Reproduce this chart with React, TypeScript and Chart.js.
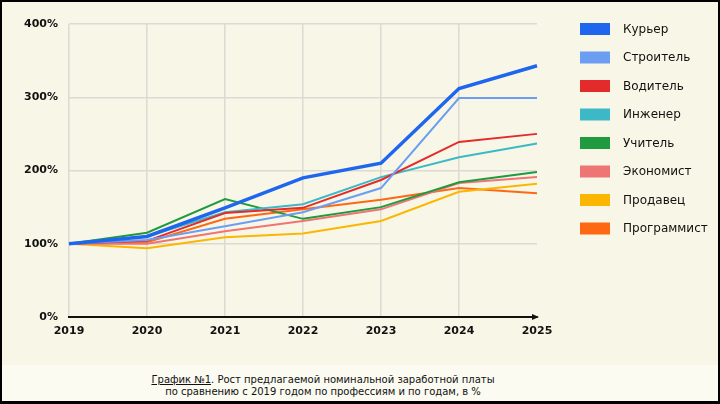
import React, { useEffect, useRef } from "react";
import { Chart, registerables } from "chart.js";

Chart.register(...registerables);

const years = ["2019", "2020", "2021", "2022", "2023", "2024", "2025"];
const seriesNames = ["Курьер", "Строитель", "Водитель", "Инженер", "Учитель", "Экономист", "Продавец", "Программист"];
const courier = [100, 110, 149, 190, 210, 312, 343];
const builder = [100, 105, 124, 143, 176, 299, 299];
const driver = [100, 104, 142, 149, 187, 239, 250];
const engineer = [100, 110, 143, 154, 191, 218, 237];
const teacher = [100, 115, 161, 134, 150, 184, 198];
const economist = [100, 100, 117, 131, 147, 183, 191];
const seller = [100, 94, 109, 114, 131, 171, 182];
const programmer = [100, 102, 134, 147, 160, 176, 169];
const seriesValues = [courier, builder, driver, engineer, teacher, economist, seller, programmer];
const seriesColors = ["#1f66ee", "#6b9ef3", "#e32b2b", "#3cb8c6", "#1f9a3f", "#ef7474", "#fbb603", "#ff6812"];
const seriesWidths = [3.5, 2, 2, 2, 2, 2, 2, 2];
const yTicks = [0, 100, 200, 300, 400];

const FONT = "'DejaVu Sans', sans-serif";

const legendPlugin = {
  id: "sideLegend",
  afterDraw(chart: any) {
    const ctx = chart.ctx;
    ctx.save();
    chart.data.datasets.forEach((ds: any, i: number) => {
      const y = 21 + i * 28.5;
      ctx.fillStyle = ds.borderColor;
      ctx.fillRect(578, y, 30, 12);
      ctx.fillStyle = "#111";
      ctx.font = "12px " + FONT;
      ctx.textBaseline = "middle";
      ctx.textAlign = "left";
      ctx.fillText(ds.label, 621, y + 6.5);
    });
    ctx.restore();
  },
};

const arrowPlugin = {
  id: "axisArrow",
  afterDraw(chart: any) {
    const { ctx, chartArea } = chart;
    const x = chartArea.right;
    const y = chart.scales.y.getPixelForValue(0);
    ctx.save();
    ctx.fillStyle = "#111";
    ctx.beginPath();
    ctx.moveTo(x + 2, y);
    ctx.lineTo(x - 5, y - 3);
    ctx.lineTo(x - 5, y + 3);
    ctx.closePath();
    ctx.fill();
    ctx.restore();
  },
};

export default function App() {
  const ref = useRef<HTMLCanvasElement | null>(null);
  useEffect(() => {
    document.body.style.margin = "0";
    const chart = new Chart(ref.current as HTMLCanvasElement, {
      type: "line",
      data: {
        labels: years,
        datasets: seriesNames.map((name, i) => ({
          label: name,
          data: seriesValues[i],
          borderColor: seriesColors[i],
          backgroundColor: seriesColors[i],
          borderWidth: seriesWidths[i],
          pointRadius: 0,
          tension: 0,
          fill: false,
        })),
      },
      options: {
        animation: false,
        responsive: false,
        maintainAspectRatio: false,
        layout: { padding: { top: 22, right: 181, left: 0, bottom: 0 } },
        plugins: { legend: { display: false }, tooltip: { enabled: false } },
        scales: {
          x: {
            type: "category",
            offset: false,
            afterFit: (s: any) => { s.height = 30; },
            grid: {
              drawTicks: false,
              lineWidth: 1.5,
              color: (c: any) => (c.index === years.length - 1 ? "rgba(0,0,0,0)" : "#dcdad2"),
            },
            border: { color: "#111", width: 2 },
            ticks: { color: "#111", font: { family: FONT, size: 11, weight: "bold" }, padding: 8, maxRotation: 0 },
          },
          y: {
            min: 0,
            max: 400,
            afterFit: (s: any) => { s.width = 67; },
            afterBuildTicks: (s: any) => { s.ticks = yTicks.map((v) => ({ value: v })); },
            grid: { drawTicks: false, lineWidth: 1.5, color: "#dcdad2" },
            border: { display: false },
            ticks: {
              color: "#111",
              font: { family: FONT, size: 11, weight: "bold" },
              padding: 11,
              callback: (v: any) => v + "%",
            },
          },
        },
      },
      plugins: [legendPlugin, arrowPlugin],
    });
    return () => chart.destroy();
  }, []);

  return (
    <div
      style={{
        position: "fixed",
        left: 0,
        top: 0,
        width: 720,
        height: 404,
        boxSizing: "border-box",
        borderTop: "2px solid #000",
        borderLeft: "2px solid #000",
        borderRight: "2px solid #000",
        borderBottom: "3px solid #000",
        background: "#fbfbf2",
        overflow: "hidden",
      }}
    >
      <div style={{ position: "absolute", left: 0, top: 0, width: 716, height: 363, background: "#f8f7e7" }} />
      <canvas ref={ref} width={716} height={345} style={{ position: "absolute", left: 0, top: 0, width: 716, height: 345 }} />
      <div
        style={{
          position: "absolute",
          left: 0,
          top: 372,
          width: 642,
          textAlign: "center",
          fontFamily: FONT,
          fontSize: 10,
          lineHeight: "12px",
          color: "#111",
        }}
      >
        <span style={{ textDecoration: "underline" }}>График №1</span>. Рост предлагаемой номинальной заработной платы
        <br />
        по сравнению с 2019 годом по профессиям и по годам, в %
      </div>
    </div>
  );
}
